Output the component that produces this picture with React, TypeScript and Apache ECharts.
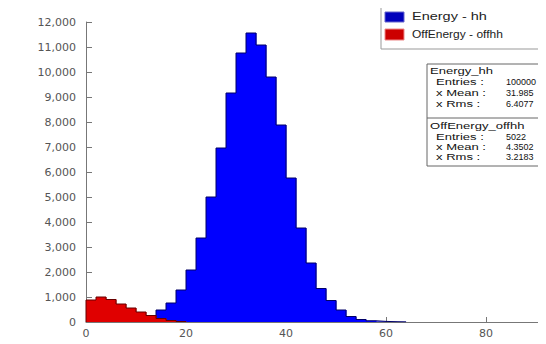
import React, { useEffect, useRef } from "react";
import * as echarts from "echarts";

// Histogram bins (start of each 2-unit bin) and counts
const blueStarts = [10, 12, 14, 16, 18, 20, 22, 24, 26, 28, 30, 32, 34, 36, 38, 40, 42, 44, 46, 48, 50, 52, 54, 56, 58, 60, 62];
const blueCounts = [80, 200, 480, 760, 1280, 2080, 3360, 5000, 6960, 9160, 10760, 11560, 11080, 9800, 7880, 5760, 3760, 2360, 1340, 860, 480, 220, 100, 50, 25, 12, 6];
const redStarts = [0, 2, 4, 6, 8, 10, 12, 14, 16, 18];
const redCounts = [880, 1000, 900, 720, 560, 400, 260, 140, 60, 20];
const binWidth = 2;

const xTicksShown = [0, 20, 40, 60, 80];
const legendLabels = ["Energy - hh", "OffEnergy - offhh"];
const statsEnergy = [["Entries :", "100000"], ["x Mean :", "31.985"], ["x Rms :", "6.4077"]];
const statsOff = [["Entries :", "5022"], ["x Mean :", "4.3502"], ["x Rms :", "3.2183"]];

const FONT = "Liberation Sans, Arial, sans-serif";
const AXFONT = "DejaVu Sans, sans-serif";

function rectData(starts: number[], counts: number[]) {
  return starts.map((s, i) => [s, s + binWidth, counts[i]]);
}
function stepData(starts: number[], counts: number[]) {
  const pts: number[][] = [[starts[0], 0]];
  starts.forEach((s, i) => pts.push([s, counts[i]]));
  const last = starts.length - 1;
  pts.push([starts[last] + binWidth, counts[last]]);
  pts.push([starts[last] + binWidth, 0]);
  return pts;
}

function histSeries(name: string, starts: number[], counts: number[], fill: string, edge: string, z: number) {
  return [
    {
      name,
      type: "custom",
      z,
      data: rectData(starts, counts),
      renderItem: (params: any, api: any) => {
        const p0 = api.coord([api.value(0), api.value(2)]);
        const p1 = api.coord([api.value(1), 0]);
        return {
          type: "rect",
          shape: { x: p0[0], y: p0[1], width: p1[0] - p0[0] + 0.5, height: p1[1] - p0[1] },
          style: { fill },
        };
      },
    },
    {
      name: name + "-edge",
      type: "line",
      z: z + 1,
      step: "end",
      symbol: "none",
      data: stepData(starts, counts),
      lineStyle: { color: edge, width: 1 },
    },
  ];
}

// page offset of the chart div (8px body margin)
const OFF = 8;

export default function App() {
  const ref = useRef<HTMLDivElement>(null);
  useEffect(() => {
    if (!ref.current) return;
    const chart = echarts.init(ref.current, null, { renderer: "svg" });
    const statX = 427 - OFF;
    const statGraphics: any[] = [];
    const blocks = [
      { title: "Energy_hh", rows: statsEnergy, titleY: 71, rowY: [82, 93, 104] },
      { title: "OffEnergy_offhh", rows: statsOff, titleY: 126, rowY: [137, 147, 157] },
    ];
    blocks.forEach((b) => {
      statGraphics.push({
        type: "text",
        x: statX + 3,
        y: b.titleY - OFF,
        scaleX: 1.45,
        style: { text: b.title, font: `9px ${FONT}`, fill: "#111", verticalAlign: "middle" },
      });
      b.rows.forEach((r, i) => {
        statGraphics.push({
          type: "text",
          x: statX + 9,
          y: b.rowY[i] - OFF,
          scaleX: 1.45,
          style: { text: r[0], font: `9px ${FONT}`, fill: "#111", verticalAlign: "middle" },
        });
        statGraphics.push({
          type: "text",
          x: 506 - OFF,
          y: b.rowY[i] - OFF,
          style: { text: r[1], font: `9px ${FONT}`, fill: "#111", verticalAlign: "middle" },
        });
      });
    });
    chart.setOption({
      animation: false,
      backgroundColor: "#fff",
      grid: { left: 86 - OFF, top: 22 - OFF, right: -32, bottom: 30, containLabel: false, outerBoundsMode: "none" },
      xAxis: {
        type: "value",
        min: 0,
        max: 100,
        interval: 20,
        axisLine: { show: true, lineStyle: { color: "#777" } },
        axisTick: { show: true, inside: true, length: 5, lineStyle: { color: "#777" } },
        splitLine: { show: false },
        axisLabel: {
          color: "#555",
          fontSize: 11,
          fontFamily: AXFONT,
          margin: 6,
          formatter: (v: number) => (xTicksShown.includes(v) ? String(v) : ""),
        },
      },
      yAxis: {
        type: "value",
        min: 0,
        max: 12000,
        interval: 1000,
        axisLine: { show: true, lineStyle: { color: "#777" } },
        axisTick: { show: true, inside: true, length: 6, lineStyle: { color: "#777" } },
        splitLine: { show: false },
        axisLabel: {
          color: "#555",
          fontSize: 11,
          fontFamily: AXFONT,
          margin: 10,
          formatter: (v: number) => v.toLocaleString("en-US"),
        },
      },
      series: [
        ...histSeries(legendLabels[0], blueStarts, blueCounts, "#0000ff", "#000066", 2),
        ...histSeries(legendLabels[1], redStarts, redCounts, "#e00000", "#660000", 4),
      ],
      graphic: [
        {
          type: "rect",
          z: 10,
          shape: { x: 381 - OFF, y: 7 - OFF, width: 200, height: 42 },
          style: { fill: "#fff", stroke: "#999", lineWidth: 1 },
        },
        { type: "rect", z: 11, shape: { x: 385 - OFF, y: 12 - OFF, width: 19, height: 10 }, style: { fill: "#0000bb", stroke: "#6666cc" } },
        { type: "rect", z: 11, shape: { x: 385 - OFF, y: 29 - OFF, width: 19, height: 11 }, style: { fill: "#cc0000", stroke: "#ee8888" } },
        { type: "text", z: 11, x: 412 - OFF, y: 17 - OFF, scaleX: 1.45, style: { text: legendLabels[0], font: `10px ${FONT}`, fill: "#222", verticalAlign: "middle" } },
        { type: "text", z: 11, x: 412 - OFF, y: 34 - OFF, scaleX: 1.2, style: { text: legendLabels[1], font: `10px ${FONT}`, fill: "#222", verticalAlign: "middle" } },
        {
          type: "rect",
          z: 10,
          shape: { x: statX, y: 64 - OFF, width: 150, height: 102 },
          style: { fill: "#fff", stroke: "#666", lineWidth: 1 },
        },
        {
          type: "line",
          z: 11,
          shape: { x1: statX, y1: 118 - OFF, x2: statX + 150, y2: 118 - OFF },
          style: { stroke: "#666", lineWidth: 1 },
        },
        ...statGraphics.map((g) => ({ ...g, z: 12 })),
      ],
    });
    return () => chart.dispose();
  }, []);
  return <div ref={ref} style={{ width: 546, height: 344 }} />;
}
